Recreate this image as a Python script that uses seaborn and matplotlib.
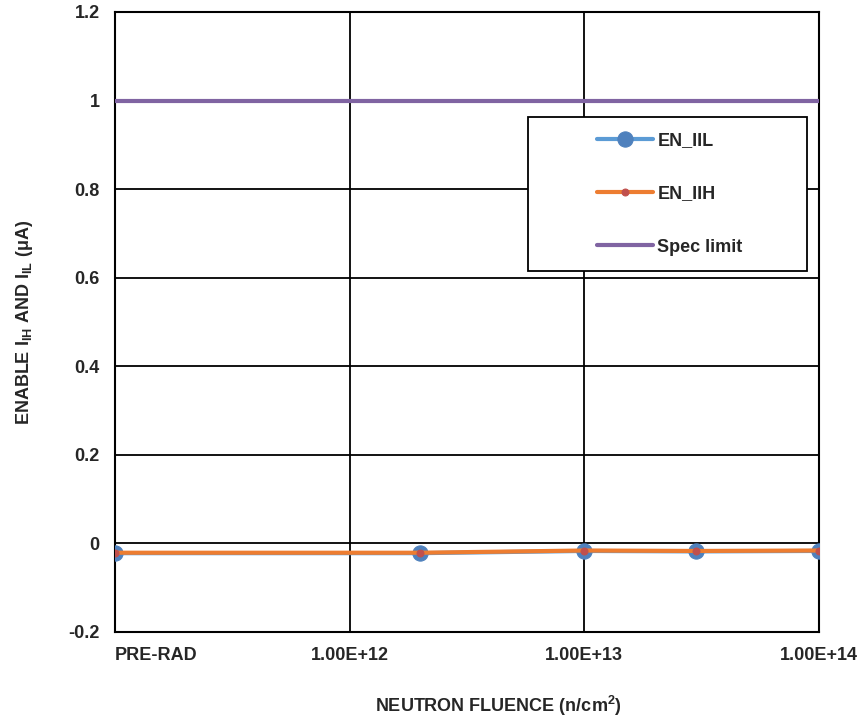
import matplotlib
matplotlib.use("Agg")
import matplotlib.pyplot as plt
from matplotlib.patches import Rectangle
import seaborn as sns
import pandas as pd

# data
fluence = [1e11, 2e12, 1e13, 3e13, 1e14]
en_iil = [-0.022, -0.022, -0.017, -0.018, -0.017]
en_iih = [-0.021, -0.021, -0.016, -0.017, -0.016]
spec_x = [1e11, 1e14]
spec_limit = [1.0, 1.0]
tick_pos = [1e11, 1e12, 1e13, 1e14]
tick_labels = ["PRE-RAD", "1.00E+12", "1.00E+13", "1.00E+14"]

sns.set_style("white")
plt.rcParams["font.family"] = ["Liberation Sans", "DejaVu Sans"]
plt.rcParams["mathtext.fontset"] = "custom"
plt.rcParams["mathtext.rm"] = "Liberation Sans:bold"
plt.rcParams["mathtext.bf"] = "Liberation Sans:bold"
plt.rcParams["mathtext.default"] = "rm"

FS = 13

df = pd.DataFrame({"fluence": fluence, "EN_IIL": en_iil, "EN_IIH": en_iih})
spec = pd.DataFrame({"fluence": spec_x, "Spec limit": spec_limit})

fig = plt.figure(figsize=(8.62, 7.2), dpi=100)
ax = fig.add_axes([115 / 862, 1 - 632 / 720, (819 - 115) / 862, (632 - 12) / 720])

sns.lineplot(data=df, x="fluence", y="EN_IIL", ax=ax, color="#5B9BD5", lw=3,
             marker="o", markersize=11, markerfacecolor="#4F81BD",
             markeredgecolor="#4F81BD", label="EN_IIL", zorder=3)
sns.lineplot(data=df, x="fluence", y="EN_IIH", ax=ax, color="#ED7D31", lw=3,
             marker="o", markersize=5, markerfacecolor="#C0504D",
             markeredgecolor="#C0504D", label="EN_IIH", zorder=4)
sns.lineplot(data=spec, x="fluence", y="Spec limit", ax=ax, color="#8064A2",
             lw=3, label="Spec limit", zorder=3)

ax.set_xscale("log")
ax.set_xlim(1e11, 1e14)
ax.set_ylim(-0.2, 1.2)
ax.set_yticks([-0.2, 0, 0.2, 0.4, 0.6, 0.8, 1.0, 1.2])
ax.set_yticklabels(["-0.2", "0", "0.2", "0.4", "0.6", "0.8", "1", "1.2"],
                   fontsize=FS, fontweight="bold")
ax.set_xticks(tick_pos)
ax.set_xticklabels(tick_labels, fontsize=FS, fontweight="bold")
ax.xaxis.set_minor_locator(matplotlib.ticker.NullLocator())
ax.get_xticklabels()[0].set_horizontalalignment("left")
ax.tick_params(axis="x", pad=11, length=0)
ax.tick_params(axis="y", pad=11, length=0)
ax.grid(True, color="black", lw=1.3)
for s in ax.spines.values():
    s.set_color("black")
    s.set_linewidth(1.5)

ax.set_xlabel("")
ax.set_ylabel(r"ENABLE I$_{IH}$ AND I$_{IL}$ ($\mu$A)", fontsize=FS,
              fontweight="bold", labelpad=24)
fig.text(498 / 862, 1 - 706 / 720, r"NEUTRON FLUENCE (n/cm$^{2}$)",
         ha="center", va="center", fontsize=FS, fontweight="bold")

# legend frame drawn separately so its size matches the reference
box = Rectangle(((528 - 115) / 704, 1 - (271 - 12) / 620), (807 - 528) / 704,
                (271 - 117) / 620, transform=ax.transAxes, facecolor="white",
                edgecolor="black", lw=1.3, zorder=9)
ax.add_patch(box)
leg = ax.legend(loc="center left",
                bbox_to_anchor=((597 - 115) / 704, 1 - (194 - 12) / 620),
                frameon=False, prop={"weight": "bold", "size": FS},
                labelspacing=2.0, borderpad=0, handlelength=3.1,
                handletextpad=0.25, borderaxespad=0)
leg.set_zorder(10)

fig.savefig("out.png", dpi=100)
